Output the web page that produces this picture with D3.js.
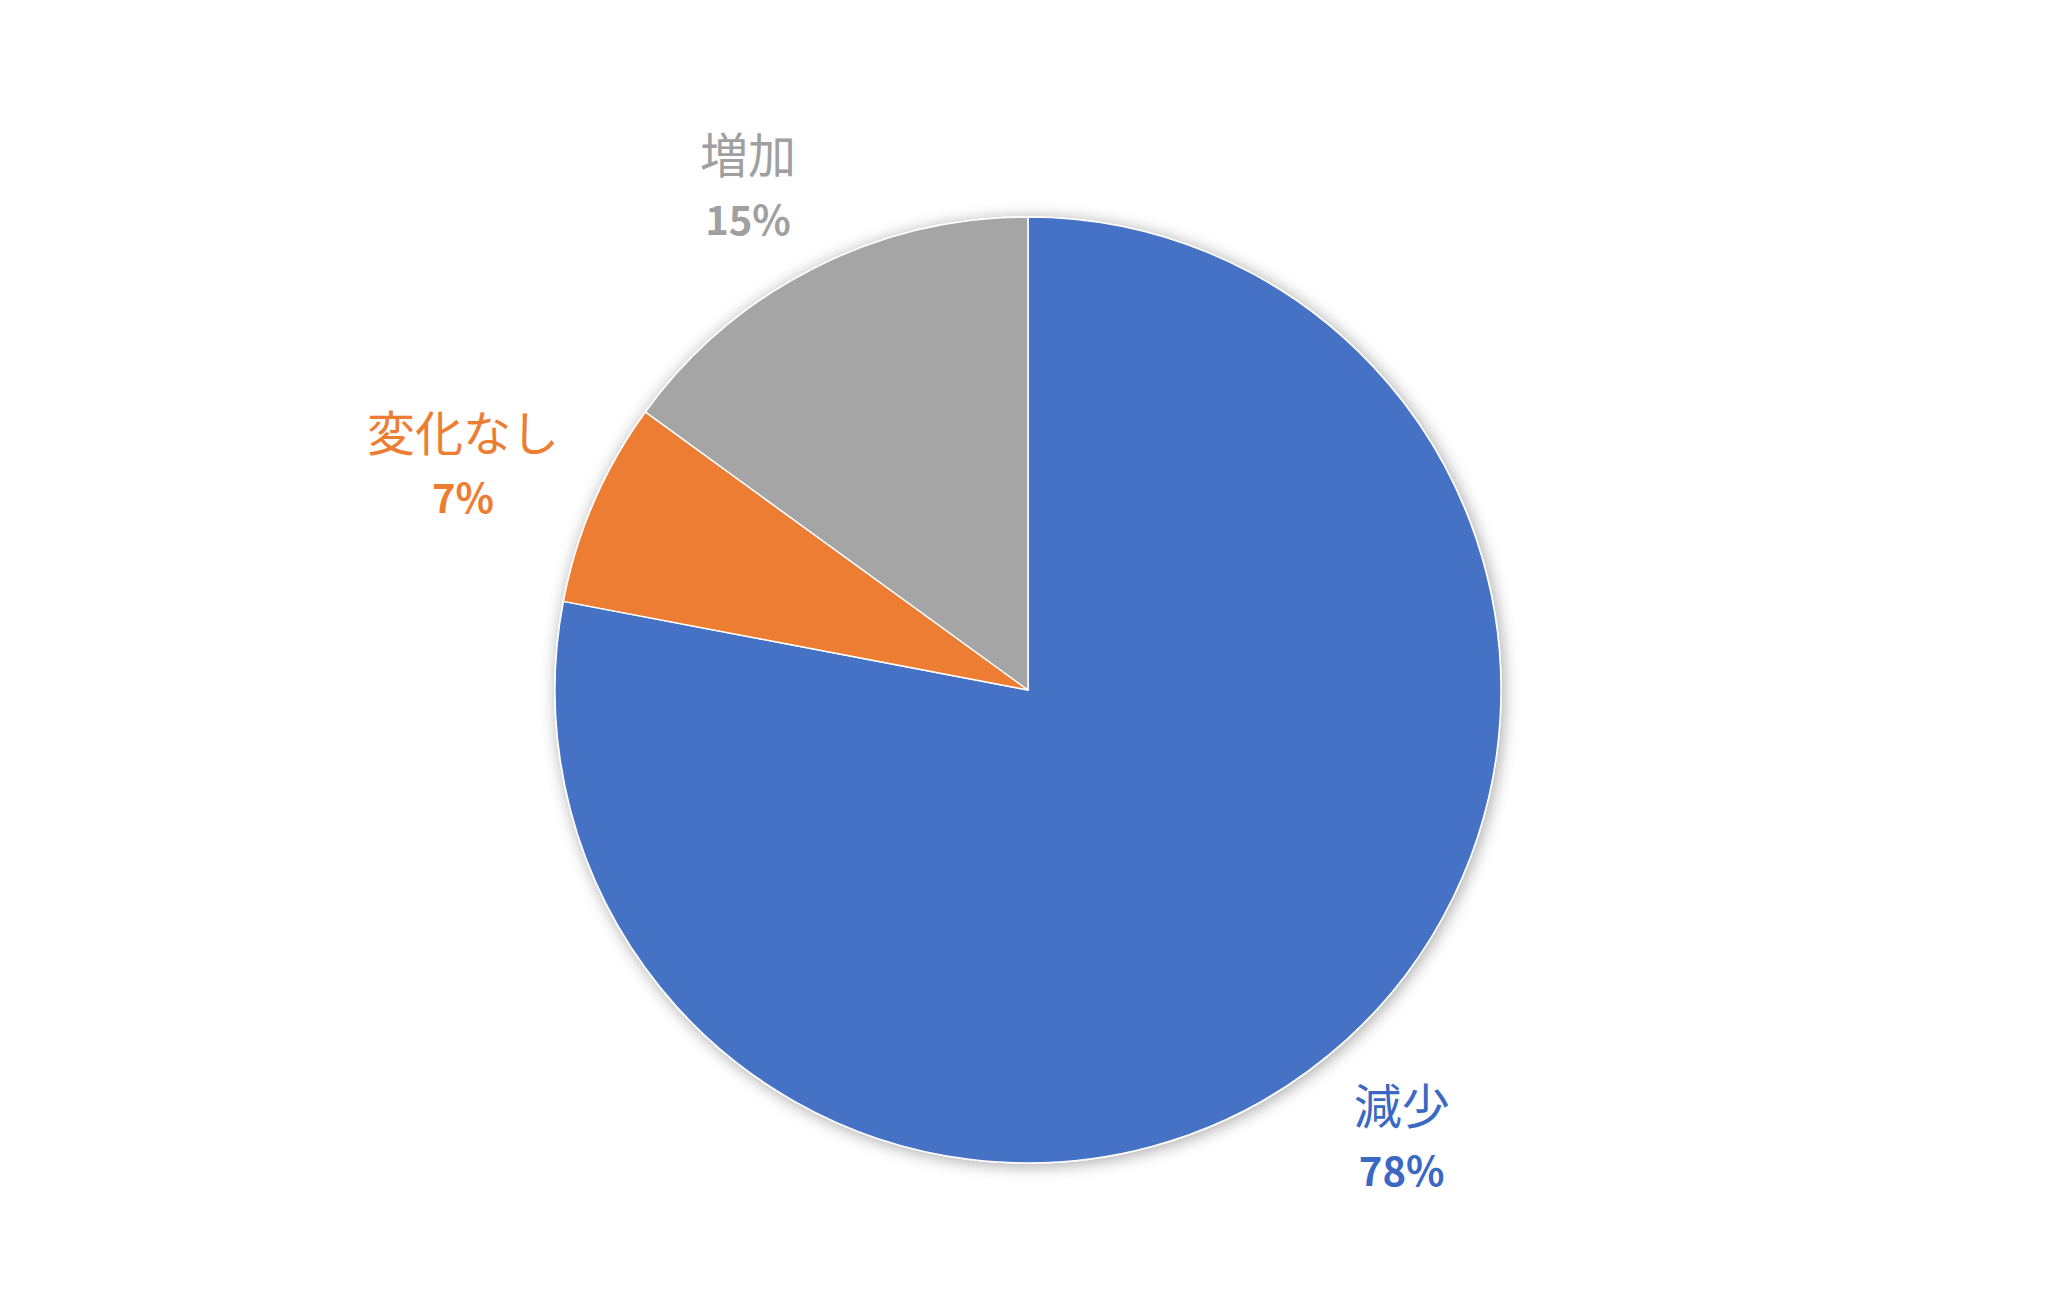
<!DOCTYPE html>
<html>
<head>
<meta charset="utf-8">
<script src="https://cdn.jsdelivr.net/npm/d3@7"></script>
<style>
  html, body { margin: 0; padding: 0; background: #fff; }
  svg { display: block; }
</style>
</head>
<body>
<svg id="chart" width="2048" height="1293"></svg>
<script>
// ---- data ----
const categories = ["減少", "変化なし", "増加"];
const values = [78, 7, 15];
const colors = ["#4472C4", "#ED7D31", "#A5A5A5"];
const textColors = ["#3A68C2", "#ED7D31", "#A0A0A0"];

const W = 2048, H = 1293;
const cx = 1028, cy = 690, R = 473;

const svg = d3.select("#chart");
const defs = svg.append("defs");
const f = defs.append("filter").attr("id", "shadow")
  .attr("x", "-20%").attr("y", "-20%").attr("width", "140%").attr("height", "140%");
f.append("feDropShadow").attr("dx", 2).attr("dy", 2).attr("stdDeviation", 8)
  .attr("flood-color", "#000").attr("flood-opacity", 0.35);

const total = d3.sum(values);
const pie = d3.pie().sort(null).value(d => d.value);
const data = categories.map((c, i) => ({ cat: c, value: values[i], i }));
const arcs = pie(data);
const arc = d3.arc().innerRadius(0).outerRadius(R);

const g = svg.append("g").attr("transform", `translate(${cx},${cy})`);
const slices = g.append("g").attr("filter", "url(#shadow)");
slices.selectAll("path").data(arcs).join("path")
  .attr("d", arc)
  .attr("fill", d => colors[d.data.i])
  .attr("stroke", "#fff")
  .attr("stroke-width", 1.5)
  .attr("stroke-linejoin", "round");

// ---- labels (best-fit outside end) ----
const catSize = 48, pctSize = 40, lineGap = 62, gap = 38;
const fmt = d3.format(".0%");
const clamp = v => Math.max(-1, Math.min(1, v));
arcs.forEach(a => {
  const mid = (a.startAngle + a.endAngle) / 2;
  const s = Math.sin(mid), c = Math.cos(mid);
  const ax = (R + gap) * s, ay = -(R + gap) * c;
  const lg = g.append("g");
  const t1 = lg.append("text")
    .attr("text-anchor", "middle")
    .attr("font-family", "'Noto Sans CJK JP', 'Noto Sans', sans-serif")
    .attr("font-size", catSize)
    .attr("fill", textColors[a.data.i])
    .text(a.data.cat);
  const t2 = lg.append("text")
    .attr("text-anchor", "middle")
    .attr("font-family", "'Noto Sans CJK JP', 'Noto Sans', sans-serif")
    .attr("font-weight", "bold")
    .attr("font-size", pctSize)
    .attr("fill", textColors[a.data.i])
    .attr("y", lineGap)
    .text(fmt(a.data.value / total));
  const w = Math.max(t1.node().getComputedTextLength(), t2.node().getComputedTextLength());
  const top = -catSize * 0.88, bottom = lineGap;   // ink box relative to first baseline
  const h = bottom - top;
  const xC = ax + Math.sign(s) * w / 2;
  const yC = ay - clamp(1.25 * c) * h / 2;
  const yBase = yC - (top + bottom) / 2;
  lg.attr("transform", `translate(${xC},${yBase})`);
});
</script>
</body>
</html>
